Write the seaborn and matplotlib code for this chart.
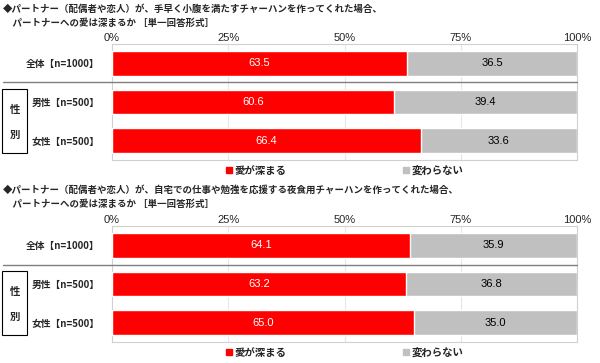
import matplotlib
matplotlib.use("Agg")
import matplotlib.pyplot as plt
from matplotlib.lines import Line2D
from matplotlib.patches import Rectangle, Patch
import seaborn as sns
import pandas as pd

sns.set_style("white")
plt.rcParams['font.family'] = ['Noto Sans CJK JP', 'DejaVu Sans']

categories = ['全体【n=1000】', '男性【n=500】', '女性【n=500】']
titles = [
    "◆パートナー（配偶者や恋人）が、手早く小腹を満たすチャーハンを作ってくれた場合、\n　パートナーへの愛は深まるか ［単一回答形式］",
    "◆パートナー（配偶者や恋人）が、自宅での仕事や勉強を応援する夜食用チャーハンを作ってくれた場合、\n　パートナーへの愛は深まるか ［単一回答形式］",
]
deepen_q1 = [63.5, 60.6, 66.4]
same_q1 = [36.5, 39.4, 33.6]
deepen_q2 = [64.1, 63.2, 65.0]
same_q2 = [35.9, 36.8, 35.0]
series_names = ['愛が深まる', '変わらない']
xticks = [0, 25, 50, 75, 100]

RED = '#ff0000'
GREY = '#c0c0c0'
W, H = 600, 363
LATIN = ['Liberation Sans', 'Noto Sans CJK JP']

fig = plt.figure(figsize=(6, 3.63), dpi=100)


def fy(y):
    return 1 - y / H


def panel(top, bottom, sep_y, title_y, legend_y, deepen, same, title):
    ax = fig.add_axes([112 / W, fy(bottom), (577 - 112) / W, (bottom - top) / H])
    df = pd.DataFrame({'cat': categories, 'deepen': deepen,
                       'total': [a + b for a, b in zip(deepen, same)], 'same': same})
    sns.barplot(data=df, y='cat', x='total', color=GREY, width=0.64, ax=ax,
                saturation=1, zorder=2)
    sns.barplot(data=df, y='cat', x='deepen', color=RED, width=0.64, ax=ax,
                saturation=1, zorder=3)
    ax.set_xlim(0, 100)
    ax.set_ylim(2.5, -0.5)
    ax.set_xticks(xticks)
    ax.set_xticklabels([f'{t}%' for t in xticks], fontsize=8, family=LATIN)
    ax.xaxis.tick_top()
    ax.tick_params(axis='x', length=0, pad=1)
    ax.set_yticks(range(len(categories)))
    ax.set_yticklabels(categories, fontsize=7, fontweight='bold')
    ax.tick_params(axis='y', length=0, pad=9)
    ax.set_xlabel('')
    ax.set_ylabel('')
    for x in xticks[1:-1]:
        ax.axvline(x, color='#e6e6e6', lw=0.8, zorder=1)
    for s in ax.spines.values():
        s.set_color('#d0d0d0')
        s.set_linewidth(0.8)
    for i, (d, s) in enumerate(zip(deepen, same)):
        ax.text(d / 2, i, f'{d:.1f}', color='white', ha='center', va='center',
                fontsize=8, family=LATIN, zorder=5)
        ax.text(d + s / 2, i, f'{s:.1f}', color='black', ha='center', va='center',
                fontsize=8, family=LATIN, zorder=5)

    fig.text(3 / W, fy(title_y), title, ha='left', va='top', fontsize=6.8,
             fontweight='bold', linespacing=1.55)
    fig.add_artist(Line2D([3 / W, 577 / W], [fy(sep_y), fy(sep_y)],
                          color='#7f7f7f', lw=1.0))
    # group box for gender
    off = top - 44
    fig.add_artist(Rectangle((2 / W, fy(153 + off)), 25 / W, 64 / H,
                             fill=False, edgecolor='black', lw=0.8))
    fig.text(15 / W, fy(110 + off), '性', ha='center', va='center',
             fontsize=7.5, fontweight='bold')
    fig.text(15 / W, fy(135 + off), '別', ha='center', va='center',
             fontsize=7.5, fontweight='bold')

    handles = [Patch(color=RED), Patch(color=GREY)]
    fig.legend(handles, series_names, loc='center', ncol=2, frameon=False,
               bbox_to_anchor=(345 / W, fy(legend_y)),
               handlelength=0.5, handleheight=0.5, handletextpad=0.3,
               columnspacing=11.2, prop={'weight': 'bold', 'size': 7.5})
    return ax


panel(44, 160, 82, 4, 171, deepen_q1, same_q1, titles[0])
panel(226, 342, 264.5, 185, 353, deepen_q2, same_q2, titles[1])

fig.savefig('out.png', dpi=100)
